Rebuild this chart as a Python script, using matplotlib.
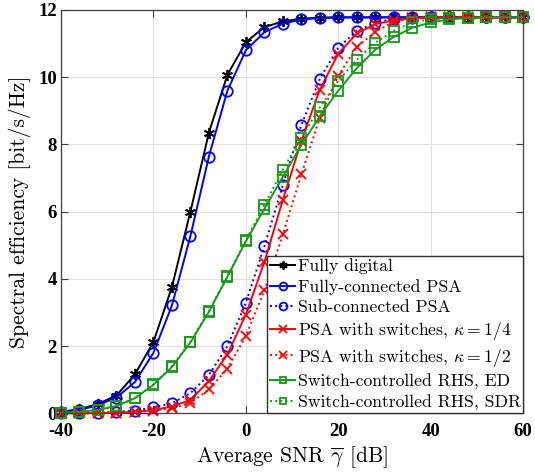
import matplotlib
matplotlib.use("Agg")
import matplotlib.pyplot as plt
from matplotlib.ticker import FuncFormatter

# ---------------- data ----------------
snr_db = [-40, -36, -32, -28, -24, -20, -16, -12, -8, -4, 0, 4, 8, 12, 16,
          20, 24, 28, 32, 36, 40, 44, 48, 52, 56, 60]

fully_digital = [0.05, 0.12, 0.28, 0.53, 1.16, 2.12, 3.76, 6.00, 8.35, 10.07,
                 11.04, 11.49, 11.66, 11.74, 11.77, 11.78, 11.78, 11.78, 11.78,
                 11.78, 11.78, 11.78, 11.78, 11.78, 11.78, 11.78]
fully_psa = [0.04, 0.10, 0.24, 0.47, 0.93, 1.80, 3.21, 5.27, 7.64, 9.60,
             10.80, 11.34, 11.59, 11.72, 11.76, 11.78, 11.78, 11.78, 11.78,
             11.78, 11.78, 11.78, 11.78, 11.78, 11.78, 11.78]
sub_psa = [0.00, 0.01, 0.02, 0.04, 0.08, 0.18, 0.30, 0.60, 1.14, 2.00,
           3.29, 4.97, 6.79, 8.58, 9.95, 10.88, 11.38, 11.62, 11.74, 11.77,
           11.78, 11.78, 11.78, 11.78, 11.78, 11.78]
psa_sw_quarter = [0.00, 0.00, 0.01, 0.02, 0.04, 0.10, 0.20, 0.40, 0.96, 1.75,
                  2.94, 4.50, 6.35, 8.10, 9.63, 10.70, 11.30, 11.58, 11.69,
                  11.76, 11.78, 11.78, 11.78, 11.78, 11.78, 11.78]
psa_sw_half = [0.00, 0.00, 0.00, 0.01, 0.03, 0.08, 0.15, 0.30, 0.71, 1.33,
               2.30, 3.66, 5.32, 7.11, 8.80, 10.05, 10.90, 11.35, 11.65,
               11.75, 11.78, 11.78, 11.78, 11.78, 11.78, 11.78]
rhs_ed = [0.01, 0.04, 0.10, 0.22, 0.45, 0.85, 1.38, 2.11, 3.02, 4.06,
          5.12, 6.08, 7.04, 7.98, 8.84, 9.60, 10.27, 10.82, 11.20, 11.47,
          11.63, 11.72, 11.76, 11.78, 11.78, 11.78]
rhs_sdr = [0.01, 0.04, 0.10, 0.22, 0.45, 0.86, 1.40, 2.13, 3.05, 4.08,
           5.15, 6.20, 7.25, 8.20, 9.10, 9.90, 10.52, 11.03, 11.38, 11.63,
           11.72, 11.75, 11.77, 11.78, 11.78, 11.78]

labels = [
    "Fully digital",
    "Fully-connected PSA",
    "Sub-connected PSA",
    r"PSA with switches, $\kappa = 1/4$",
    r"PSA with switches, $\kappa = 1/2$",
    "Switch-controlled RHS, ED",
    "Switch-controlled RHS, SDR",
]
x_ticks = [-40, -20, 0, 20, 40, 60]
y_ticks = [0, 2, 4, 6, 8, 10, 12]

# ---------------- style ----------------
plt.rcParams['mathtext.fontset'] = 'cm'
plt.rcParams['axes.unicode_minus'] = False

green = (0.1, 0.6, 0.1)
asterisk = (6, 2, 0)
series = [
    (fully_digital, 'k', '-', asterisk, 8),
    (fully_psa, 'b', '-', 'o', 7.5),
    (sub_psa, 'b', ':', 'o', 7.5),
    (psa_sw_quarter, 'r', '-', 'x', 7),
    (psa_sw_half, 'r', ':', 'x', 7),
    (rhs_ed, green, '-', 's', 6.5),
    (rhs_sdr, green, ':', 's', 6.5),
]

fig = plt.figure(figsize=(5.35, 4.74), dpi=100)
ax = fig.add_axes([0.114, 0.128, 0.864, 0.851])

for (vals, c, ls, m, ms), lab in zip(series, labels):
    ax.plot(snr_db, vals, color=c, linestyle=ls, marker=m, markersize=ms,
            markerfacecolor='none', markeredgecolor=c, markeredgewidth=1.3,
            linewidth=1.4, label=lab, clip_on=False)

ax.set_xlim(-40, 60)
ax.set_ylim(0, 12)
ax.set_xticks(x_ticks)
ax.set_yticks(y_ticks)
ax.xaxis.set_major_formatter(FuncFormatter(lambda v, p: f"{int(v)}"))
ax.yaxis.set_major_formatter(FuncFormatter(lambda v, p: f"{int(v)}"))
for lab in ax.get_xticklabels() + ax.get_yticklabels():
    lab.set_fontfamily('Liberation Serif')
    lab.set_fontweight('bold')
    lab.set_fontsize(13.5)
ax.tick_params(direction='in', top=True, right=True, length=5,
               color='#404040', width=0.8)
ax.tick_params(axis='x', pad=7)
ax.tick_params(axis='y', pad=3)
ax.grid(True, color='#e0e0e0', linewidth=0.8)
ax.set_axisbelow(True)
for sp in ax.spines.values():
    sp.set_color('#404040')
    sp.set_linewidth(0.9)

ax.set_xlabel(r"Average SNR $\overline{\gamma}$ [dB]", fontfamily='cmr10',
              fontsize=15.5, labelpad=3)
ax.set_ylabel("Spectral efficiency [bit/s/Hz]", fontfamily='cmr10',
              fontsize=15.5, labelpad=5)

leg = ax.legend(loc='lower right', borderaxespad=0, fancybox=False,
                framealpha=1, edgecolor='#303030',
                prop={'family': 'cmr10', 'size': 12.7},
                handlelength=1.45, handletextpad=0.12, labelspacing=0.27,
                borderpad=0.15, markerscale=0.75)
leg.get_frame().set_linewidth(1.0)

fig.savefig("out.png", dpi=100)
